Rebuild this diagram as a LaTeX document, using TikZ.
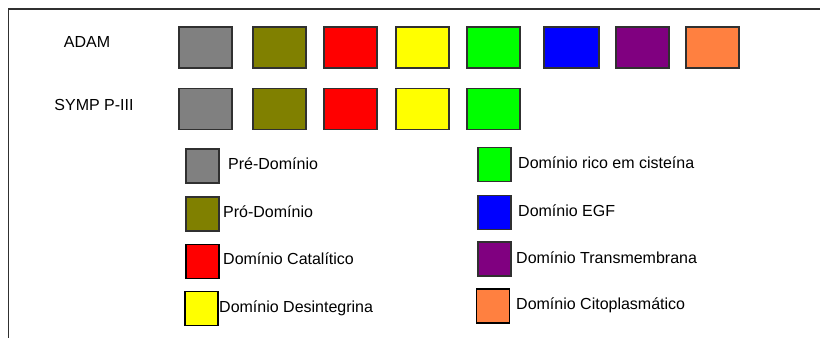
\documentclass[tikz,border=0pt]{standalone}
\usepackage{fontspec}
\setmainfont{Liberation Sans}
\definecolor{cgray}{HTML}{808080}
\definecolor{colive}{HTML}{808000}
\definecolor{cred}{HTML}{FF0000}
\definecolor{cyellow}{HTML}{FFFF00}
\definecolor{cgreen}{HTML}{00FF00}
\definecolor{cblue}{HTML}{0000FF}
\definecolor{cpurple}{HTML}{800080}
\definecolor{corange}{HTML}{FF8040}
\definecolor{cedge}{HTML}{303030}
\begin{document}
\begin{tikzpicture}[x=1pt,y=-1pt,
  dombox/.style={draw=cedge, line width=1.4pt, minimum width=53pt, minimum height=41pt, inner sep=0pt},
  legbox/.style={draw=cedge, line width=1.4pt, minimum width=33pt, minimum height=34pt, inner sep=0pt},
  lbl/.style={anchor=base west, inner sep=0pt, font=\fontsize{16}{19}\selectfont},
  rowlbl/.style={anchor=base, inner sep=0pt, font=\fontsize{16}{19}\selectfont}]
\useasboundingbox (0,0) rectangle (820,338);
\draw[cedge, line width=1.6pt] (820,9) -- (8.5,9) -- (8.5,338);
% row labels
\node[rowlbl] (adam) at (87,47) {ADAM};
\node[rowlbl] (symp) at (94,110) {SYMP P-III};
% ADAM row
\node[dombox, fill=cgray]   (a1) at (205.5,47.5) {};
\node[dombox, fill=colive]  (a2) at (279.5,47.5) {};
\node[dombox, fill=cred]    (a3) at (350.5,47.5) {};
\node[dombox, fill=cyellow] (a4) at (422.5,47.5) {};
\node[dombox, fill=cgreen]  (a5) at (493.5,47.5) {};
\node[dombox, fill=cblue, minimum width=55pt]   (a6) at (571.5,47.5) {};
\node[dombox, fill=cpurple] (a7) at (642.5,47.5) {};
\node[dombox, fill=corange] (a8) at (712.5,47.5) {};
% SVMP row
\node[dombox, fill=cgray]   (s1) at (205.5,109) {};
\node[dombox, fill=colive]  (s2) at (279.5,109) {};
\node[dombox, fill=cred]    (s3) at (350.5,109) {};
\node[dombox, fill=cyellow] (s4) at (422.5,109) {};
\node[dombox, fill=cgreen]  (s5) at (493.5,109) {};
% legend left
\node[legbox, fill=cgray]   (l1) at (202.5,166) {};
\node[lbl] (t1) at (228,169) {Pré-Domínio};
\node[legbox, fill=colive]  (l2) at (202.5,214) {};
\node[lbl] (t2) at (223,217) {Pró-Domínio};
\node[legbox, fill=cred, draw=black]    (l3) at (202.5,261.5) {};
\node[lbl] (t3) at (223,264) {Domínio Catalítico};
\node[legbox, fill=cyellow, draw=black] (l4) at (201.5,308.5) {};
\node[lbl] (t4) at (219,312) {Domínio Desintegrina};
% legend right
\node[legbox, fill=cgreen]  (r1) at (494.5,164.5) {};
\node[lbl] (u1) at (518,168) {Domínio rico em cisteína};
\node[legbox, fill=cblue]   (r2) at (494.5,212.5) {};
\node[lbl] (u2) at (518,216) {Domínio EGF};
\node[legbox, fill=cpurple] (r3) at (494.5,259) {};
\node[lbl] (u3) at (516,263) {Domínio Transmembrana};
\node[legbox, fill=corange, draw=black] (r4) at (493,306) {};
\node[lbl] (u4) at (516,309) {Domínio Citoplasmático};
\end{tikzpicture}
\end{document}
